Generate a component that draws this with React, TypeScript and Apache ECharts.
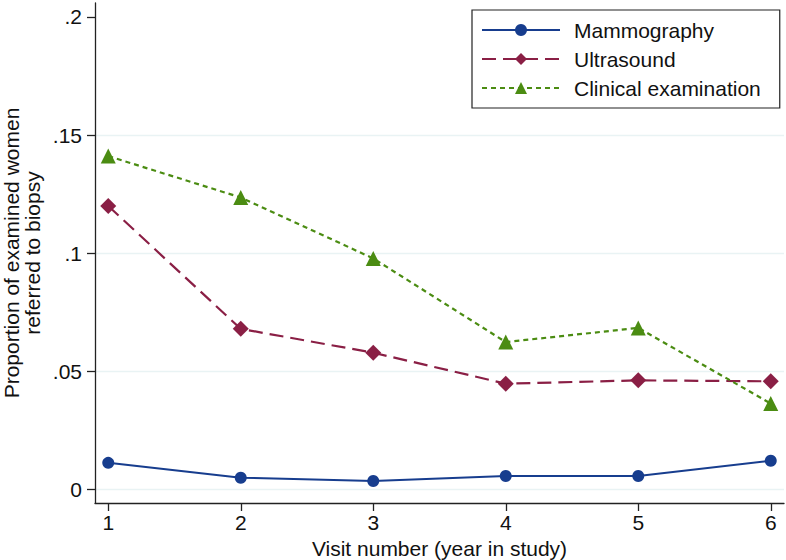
import React, { useEffect, useRef } from "react";
import * as echarts from "echarts";

const visits = [1, 2, 3, 4, 5, 6];
const mammography = [0.0113, 0.005, 0.0036, 0.0057, 0.0057, 0.0122];
const ultrasound = [0.12, 0.068, 0.0579, 0.0448, 0.0462, 0.0458];
const clinical = [0.1411, 0.1236, 0.0978, 0.0624, 0.0684, 0.0364];
const yTicks = [0, 0.05, 0.1, 0.15, 0.2];
const yTickLabels = ["0", ".05", ".1", ".15", ".2"];
const xTicks = [1, 2, 3, 4, 5, 6];

const FONT = "Liberation Sans, Arial, Helvetica, sans-serif";
const FS = 21;
const GRID_C = "#e9f3f4";

export default function App() {
  const ref = useRef<HTMLDivElement>(null);
  useEffect(() => {
    if (!ref.current) return;
    const chart = echarts.init(ref.current, undefined, { renderer: "svg" });
    const pts = (vals: number[]) => visits.map((v, i) => [v, vals[i]]);
    chart.setOption({
      animation: false,
      backgroundColor: "#ffffff",
      textStyle: { fontFamily: FONT },
      grid: { left: 95, right: 2, top: 3, bottom: 57, containLabel: false, outerBoundsMode: "none" },
      xAxis: {
        type: "value",
        min: 0.9,
        max: 6.1,
        name: "Visit number (year in study)",
        nameLocation: "middle",
        nameGap: 27,
        nameTextStyle: { fontSize: FS, color: "#111", fontFamily: FONT },
        axisLine: { show: true, onZero: false, lineStyle: { color: "#222", width: 1.3 } },
        axisTick: { show: true, length: 8, customValues: xTicks, lineStyle: { color: "#222", width: 1.3 } },
        axisLabel: { customValues: xTicks, margin: 9, fontSize: FS, color: "#111", fontFamily: FONT },
        splitLine: { show: false },
      },
      yAxis: {
        type: "value",
        min: -0.0057,
        max: 0.2059,
        axisLine: { show: true, onZero: false, lineStyle: { color: "#222", width: 1.3 } },
        axisTick: { show: true, length: 8, customValues: yTicks, lineStyle: { color: "#222", width: 1.3 } },
        axisLabel: {
          customValues: yTicks,
          margin: 13,
          fontSize: FS,
          color: "#111",
          fontFamily: FONT,
          formatter: (v: number) => {
            const idx = yTicks.findIndex((t) => Math.abs(t - v) < 1e-9);
            return idx >= 0 ? yTickLabels[idx] : "";
          },
        },
        splitLine: {
          show: true,
          lineStyle: { color: [GRID_C, GRID_C, GRID_C, GRID_C, "rgba(0,0,0,0)"], width: 1.3 },
        },
      },
      legend: {
        orient: "vertical",
        left: 472,
        top: 10,
        padding: [9, 19, 9, 9],
        itemWidth: 78,
        itemHeight: 15,
        itemGap: 7,
        borderColor: "#222",
        borderWidth: 1.2,
        backgroundColor: "#fff",
        textStyle: { fontSize: FS, color: "#111", fontFamily: FONT, lineHeight: 22, padding: [0, 0, 0, 9] },
        data: ["Mammography", "Ultrasound", "Clinical examination"],
      },
      series: [
        {
          name: "Mammography",
          type: "line",
          data: pts(mammography),
          symbol: "circle",
          symbolSize: 12,
          color: "#173d8e",
          lineStyle: { color: "#173d8e", width: 2 },
          itemStyle: { color: "#173d8e" },
        },
        {
          name: "Ultrasound",
          type: "line",
          data: pts(ultrasound),
          symbol: "diamond",
          symbolSize: 16,
          color: "#8a1f45",
          lineStyle: { color: "#8a1f45", width: 2.2, type: [14, 7] },
          itemStyle: { color: "#8a1f45" },
        },
        {
          name: "Clinical examination",
          type: "line",
          data: pts(clinical),
          symbol: "triangle",
          symbolSize: 15,
          color: "#4b8c12",
          lineStyle: { color: "#4b8c12", width: 2.2, type: [5, 4] },
          itemStyle: { color: "#4b8c12" },
        },
      ],
      graphic: [
        {
          type: "text",
          x: 22,
          y: 253,
          rotation: Math.PI / 2,
          style: {
            text: "Proportion of examined women\nreferred to biopsy",
            fontSize: FS,
            lineHeight: 21,
            fontFamily: FONT,
            fill: "#111",
            align: "center",
            verticalAlign: "middle",
          },
        },
      ],
    });
    return () => chart.dispose();
  }, []);
  return <div ref={ref} style={{ width: 786, height: 560, position: "absolute", left: 0, top: 0 }} />;
}
